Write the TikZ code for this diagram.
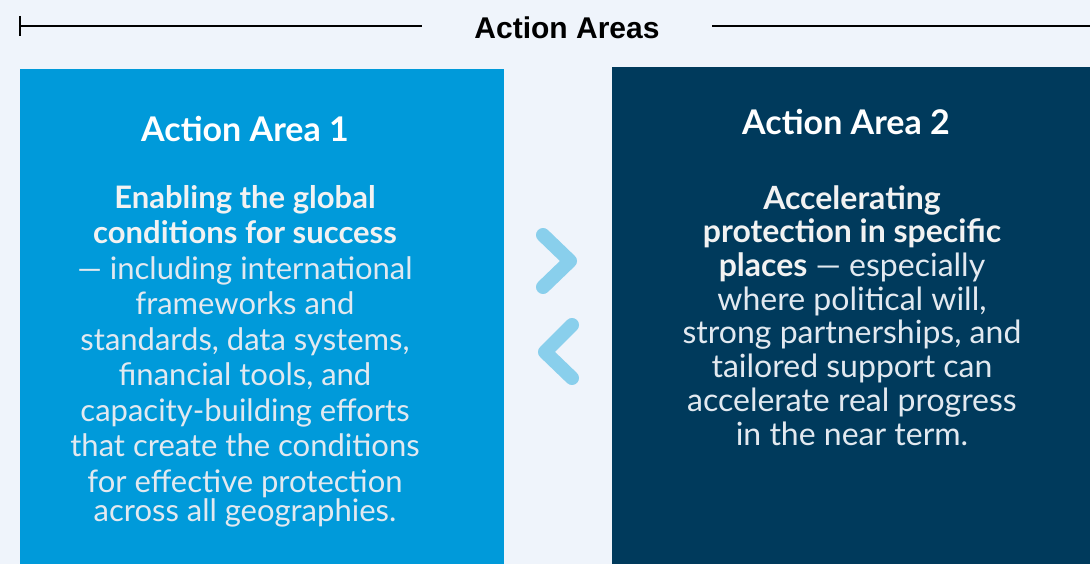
\documentclass[tikz,border=0pt]{standalone}
\usepackage{fontspec}
\setmainfont{Lato}
\newfontfamily\headfont{Liberation Sans}
\definecolor{bg}{HTML}{EFF4FB}
\definecolor{leftbox}{HTML}{009ADA}
\definecolor{rightbox}{HTML}{003A5C}
\definecolor{chev}{HTML}{89CFEC}
\definecolor{boldtxt}{HTML}{F2F2F2}
\definecolor{regtxt}{HTML}{E2E9F0}
\newcommand{\bt}[1]{{\bfseries\color{boldtxt}#1}}
\newcommand{\rt}[1]{{\color{regtxt}#1}}
\tikzset{
  areabox/.style={draw=none, inner sep=0pt, anchor=north west},
  rulel/.style={draw=black, line width=1.5pt},
  headtxt/.style={font=\headfont\bfseries\fontsize{30}{36}\selectfont, text=black, anchor=base, inner sep=0pt},
  titletxt/.style={font=\bfseries\fontsize{34}{40}\selectfont, text=white, anchor=base, inner sep=0pt},
  bodytxtL/.style={font=\fontsize{31}{35.5}\selectfont, align=center, anchor=base, inner sep=0pt},
  bodytxtR/.style={font=\fontsize{32}{33.7}\selectfont, align=center, anchor=base, inner sep=0pt},
  chevron/.style={draw=chev, line width=14pt, line cap=round, line join=round}
}
\begin{document}
\begin{tikzpicture}[x=1pt,y=-1pt]
\fill[bg] (0,0) rectangle (1090,564);
\useasboundingbox (0,0) rectangle (1090,564);
% header
\node[headtxt] (head) at (567,39) {Action Areas};
\coordinate (ltickt) at (20,16);
\coordinate (ltickb) at (20,36);
\coordinate (lstart) at (20,26);
\coordinate (lend) at (422,26);
\coordinate (rstart) at (712,26);
\coordinate (rend) at (1090,26);
\draw[rulel] (lstart) -- (lend);
\draw[rulel] (ltickt) -- (ltickb);
\draw[rulel] (rstart) -- (rend);
% boxes
\node[areabox, fill=leftbox, minimum width=484pt, minimum height=495pt] (area1) at (20,69) {};
\node[areabox, fill=rightbox, minimum width=478pt, minimum height=497pt] (area2) at (612,67) {};
% titles
\node[titletxt] (t1) at (245,142) {Action Area 1};
\node[titletxt] (t2) at (846,135) {Action Area 2};
% bodies (base anchor = baseline of last line)
\node[bodytxtL] (b1) at (245,521) {\bt{Enabling the global}\\
\bt{conditions for success}\\
\rt{— including international}\\
\rt{frameworks and}\\
\rt{standards, data systems,}\\
\rt{financial tools, and}\\
\rt{capacity-building efforts}\\
\rt{that create the conditions}\\
\rt{for effective protection}\\[-6.5pt]
\rt{across all geographies.}};
\node[bodytxtR] (b2) at (852,445) {\bt{Accelerating}\\
\bt{protection in specific}\\
\bt{places} \rt{— especially}\\
\rt{where political will,}\\
\rt{strong partnerships, and}\\
\rt{tailored support can}\\
\rt{accelerate real progress}\\
\rt{in the near term.}};
% chevrons
\coordinate (c1a) at (543,235);
\coordinate (c1b) at (570,261);
\coordinate (c1c) at (543,287);
\coordinate (c2a) at (572,325);
\coordinate (c2b) at (545,352);
\coordinate (c2c) at (572,378);
\draw[chevron] (c1a) -- (c1b) -- (c1c);
\draw[chevron] (c2a) -- (c2b) -- (c2c);
\end{tikzpicture}
\end{document}
